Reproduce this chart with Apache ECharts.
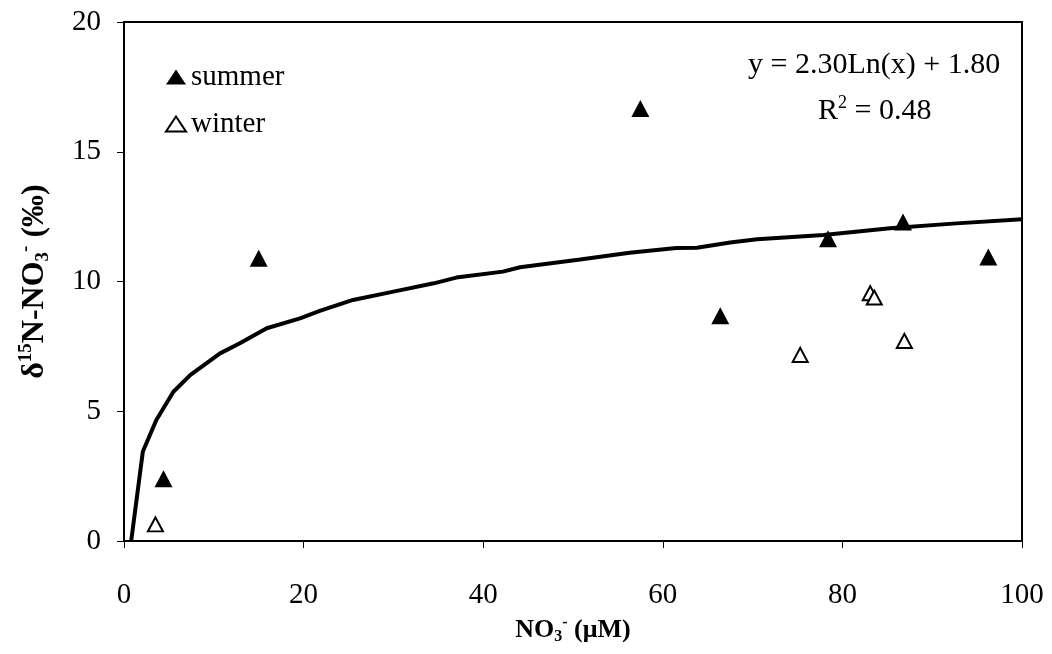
<!DOCTYPE html>
<html>
<head>
<meta charset="utf-8">
<script src="https://cdn.jsdelivr.net/npm/echarts@6/dist/echarts.min.js"></script>
<style>
  html, body { margin: 0; padding: 0; background: #fff; }
  #chart { width: 1052px; height: 654px; }
</style>
</head>
<body>
<div id="chart"></div>
<script>
// Nitrate concentration (µM) vs δ15N of nitrate (‰)
const summer = [
  [4.4, 2.4], [15.0, 10.9], [57.5, 16.67], [66.4, 8.68],
  [78.4, 11.65], [86.75, 12.29], [96.25, 10.94]
];
const winter = [
  [3.5, 0.64], [75.3, 7.17], [83.1, 9.55], [83.55, 9.38], [86.9, 7.71]
];
// Logarithmic trendline as drawn
const trend = [
  [0.8, 0], [2.1, 3.45], [3.6, 4.66], [5.5, 5.75], [7.4, 6.4], [10.7, 7.23],
  [12.9, 7.62], [15.9, 8.2], [19.6, 8.58], [21.8, 8.87], [25.5, 9.29],
  [30, 9.61], [34.5, 9.93], [37, 10.15], [42.2, 10.38], [44.1, 10.55],
  [50.8, 10.85], [56.3, 11.11], [61.5, 11.29], [63.8, 11.3], [67.5, 11.5],
  [70.5, 11.63], [77.9, 11.79], [85.3, 12.05], [92.7, 12.24], [100, 12.4]
];
const xTicks = [0, 20, 40, 60, 80, 100];
const yTicks = [0, 5, 10, 15, 20];
const equationText = 'y = 2.30Ln(x) + 1.80';
const r2Text = '{n|R}{s|2}{n| = 0.48}';

const FONT = '"Liberation Serif", "Times New Roman", serif';
const chart = echarts.init(document.getElementById('chart'));

function titleRich(size, small) {
  const base = { fontFamily: FONT, fontWeight: 'bold', color: '#000' };
  return {
    b: Object.assign({ fontSize: size, lineHeight: size + 4 }, base),
    sub: Object.assign({ fontSize: small, verticalAlign: 'bottom', lineHeight: small + 6 }, base),
    sup: Object.assign({ fontSize: small, verticalAlign: 'top', lineHeight: small + 6 }, base)
  };
}

chart.setOption({
  animation: false,
  backgroundColor: '#fff',
  textStyle: { fontFamily: FONT, color: '#000' },
  grid: {
    left: 124, right: 30, top: 22, bottom: 113,
    show: true, borderColor: '#000', borderWidth: 2
  },
  legend: {
    data: ['summer', 'winter'],
    orient: 'vertical',
    left: 160, top: 57,
    itemWidth: 20, itemHeight: 15, itemGap: 17,
    textStyle: { fontFamily: FONT, fontSize: 29, lineHeight: 30, color: '#000', padding: [0, 0, 0, 0] }
  },
  xAxis: {
    type: 'value', min: 0, max: 100, interval: 20,
    name: '{b|NO}{sub|3}{sup|-}{b| (μM)}',
    nameLocation: 'middle', nameGap: 68,
    nameTextStyle: { rich: titleRich(26, 16) },
    axisLine: { lineStyle: { color: '#000', width: 2 } },
    axisTick: { show: true, length: 7, lineStyle: { color: '#000', width: 1 } },
    axisLabel: {
      fontFamily: FONT, fontSize: 29, color: '#000', margin: 40,
      formatter: v => (xTicks.includes(v) ? String(v) : '')
    },
    splitLine: { show: false }
  },
  yAxis: {
    type: 'value', min: 0, max: 20, interval: 5,
    name: '{b|δ}{sup|15}{b|N-NO}{sub|3}{sup|-}{b| (‰)}',
    nameLocation: 'middle', nameGap: 71, nameRotate: 90,
    nameTextStyle: { rich: titleRich(32, 19) },
    axisLine: { lineStyle: { color: '#000', width: 2 } },
    axisTick: { show: true, length: 7, lineStyle: { color: '#000', width: 1 } },
    axisLabel: {
      fontFamily: FONT, fontSize: 29, color: '#000', margin: 23,
      formatter: v => (yTicks.includes(v) ? String(v) : '')
    },
    splitLine: { show: false }
  },
  graphic: [
    {
      type: 'text', left: 748, top: 50,
      style: { text: equationText, font: '30px ' + FONT, fill: '#000' }
    },
    {
      type: 'text', left: 818, top: 94,
      style: {
        text: r2Text,
        rich: {
          n: { fontFamily: FONT, fontSize: 30, fill: '#000', lineHeight: 34 },
          s: { fontFamily: FONT, fontSize: 18, fill: '#000', verticalAlign: 'top', lineHeight: 22 }
        }
      }
    }
  ],
  series: [
    {
      name: 'trend', type: 'line', data: trend,
      showSymbol: false, smooth: false, silent: true,
      lineStyle: { color: '#000', width: 4 }, z: 1
    },
    {
      name: 'summer', type: 'scatter', data: summer,
      symbol: 'triangle', symbolSize: [18, 17],
      itemStyle: { color: '#000', opacity: 1 }, z: 3
    },
    {
      name: 'winter', type: 'scatter', data: winter,
      symbol: 'triangle', symbolSize: [15, 14],
      itemStyle: { color: '#fff', borderColor: '#000', borderWidth: 2, opacity: 1 }, z: 3
    }
  ]
});
</script>
</body>
</html>
